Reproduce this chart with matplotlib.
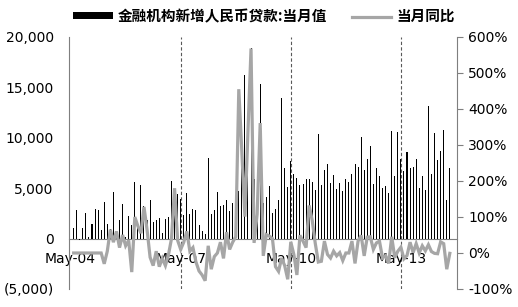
import matplotlib
matplotlib.use("Agg")
import matplotlib.pyplot as plt
import numpy as np
import pandas as pd
from matplotlib.ticker import FuncFormatter

plt.rcParams['font.family'] = ['DejaVu Sans']

start_month = "2004-05"

# 金融机构新增人民币贷款:当月值 (亿元), May-04 .. Aug-14
loans = [
    1090, 2800, -100, 1090, 2500, 200, 1400, 2900,
    2800, 900, 3600, 1400, 1000, 4600, 300, 1800, 3400, 200, 2200, 1300,
    5600, 1500, 5300, 3200, 1800, 3800, 1600, 1800, 2000, 600, 1900, 2100,
    5700, 4400, 4420, 3970, 2360, 4520, 2440, 2950, 2810, 1360, 750, 485,
    8040, 2440, 2830, 4640, 3190, 3320, 3860, 2720, 3520, 1810, 4770, 7720,
    16200, 10700, 18900, 5920, 6650, 15300, 3560, 4100, 5170, 2530, 2950, 3800,
    13900, 7000, 5110, 7740, 6390, 6030, 5320, 5450, 5960, 5870, 5640, 4810,
    10400, 5360, 6790, 7400, 5520, 6340, 4920, 5490, 4700, 5870, 5620, 6410,
    7380, 7110, 10100, 6820, 7930, 9200, 5400, 7040, 6230, 5050, 5230, 4540,
    10700, 6200, 10600, 7930, 6670, 8600, 7000, 7110, 7870, 5060, 6250, 4830,
    13200, 6450, 10500, 7750, 8710, 10800, 3850, 7030,
]

# 当月同比 (%)
yoy = [
    0, 0, 0, 0, 0, 0, 0, 0,
    0, 0, -30, 5, 65, 30, 60, 15, 50, 20, 35, -53,
    100, 75, 55, 128, 65, -12, -35, 5, -38, -15, -35, -5,
    40, 180, 35, 10, 30, 60, 5, 15, -25, -50, -61, -77,
    20, -45, -10, 0, 30, -15, 58, 10, 30, 45, 455, 280,
    101, 339, 568, 28, 108, 361, -8, 51, 47, 40, -38, -51,
    -14, -35, -73, 31, -4, -61, 49, 33, 15, 132, 91, 27,
    -25, -23, 33, -4, -14, 5, -8, 1, -21, 0, 0, 33,
    -29, 33, 49, -8, 44, 45, 10, 28, 33, -14, -7, -29,
    45, -13, 5, 16, -16, -7, 30, 1, 26, 0, 20, 6,
    23, 4, -1, -2, 31, 26, -45, -1,
]

label_months = ["May-04", "May-07", "May-10", "May-13"]

dates = pd.period_range(start_month, periods=len(loans), freq="M")
x = np.arange(len(loans))
tick_pos = [i - 1 for i, d in enumerate(dates) if d.strftime("%b-%y") in label_months]

fig = plt.figure(figsize=(5.18, 3.07), dpi=100)
ax = fig.add_axes([69 / 518, 1 - 289 / 307, 388 / 518, 252 / 307])
ax2 = ax.twinx()

grey_axis = "#7f7f7f"

ax.bar(x, loans, width=0.33, color="black", linewidth=0, zorder=3,
       label="金融机构新增人民币贷款:当月值")
ax2.plot(x, yoy, color="#a6a6a6", lw=2.3, solid_joinstyle="miter", zorder=4,
         label="当月同比")

for p in tick_pos[1:]:
    ax.axvline(p, color="#595959", lw=0.8, ls=(0, (3, 2)), zorder=1)

ax.set_xlim(-1.52, 125.35)
ax.set_ylim(-5000, 20000)
ax2.set_ylim(-100, 600)
ax.set_yticks(np.arange(-5000, 20001, 5000))
ax2.set_yticks(np.arange(-100, 601, 100))

ax.yaxis.set_major_formatter(FuncFormatter(
    lambda v, _: f"({abs(v):,.0f})" if v < 0 else f"{v:,.0f}"))
ax2.yaxis.set_major_formatter(FuncFormatter(lambda v, _: f"{v:.0f}%"))

ax.set_xticks(tick_pos)
ax.set_xticklabels(label_months)

for s in ["top", "right"]:
    ax.spines[s].set_visible(False)
ax.spines["bottom"].set_position(("data", 0))
ax.spines["bottom"].set_color(grey_axis)
ax.spines["left"].set_color(grey_axis)
ax.spines["bottom"].set_zorder(2)
for s in ["top", "left", "bottom"]:
    ax2.spines[s].set_visible(False)
ax2.spines["right"].set_color(grey_axis)

ax.tick_params(axis="x", length=0, pad=10, labelsize=10)
ax.tick_params(axis="y", length=0, pad=11, labelsize=10)
ax2.tick_params(axis="y", length=4, width=0.8, color=grey_axis, pad=4, labelsize=10)

h1, l1 = ax.get_legend_handles_labels()
h2, l2 = ax2.get_legend_handles_labels()
fig.legend(h1 + h2, l1 + l2, loc="center", bbox_to_anchor=(264 / 518, 1 - 16 / 307),
           ncol=2, frameon=False, handlelength=2.7, handleheight=0.35,
           handletextpad=0.35, columnspacing=1.7,
           prop={"family": ["Noto Sans CJK SC", "DejaVu Sans"], "weight": "bold", "size": 10.5})

fig.savefig("out.png", dpi=100)
